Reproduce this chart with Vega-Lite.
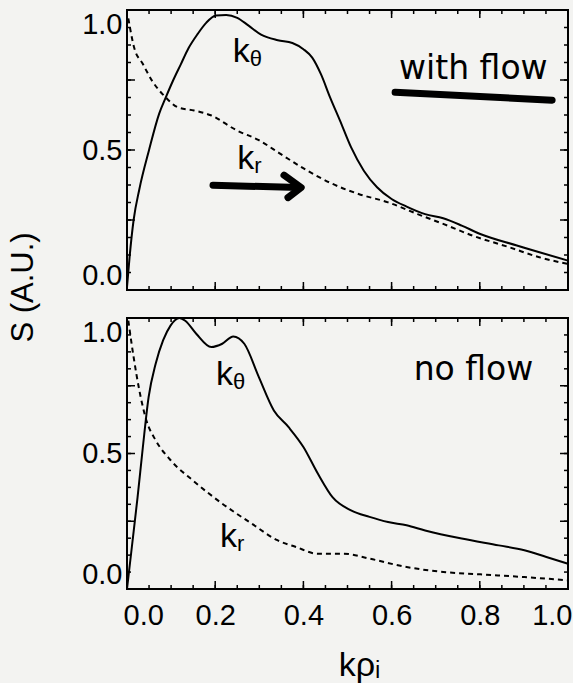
{
  "$schema": "https://vega.github.io/schema/vega-lite/v6.json",
  "background": "#f3f3f1",
  "padding": {"left": 6, "top": 8, "right": 0, "bottom": 0},
  "datasets": {
    "curves": [
      {"panel":"top","series":"theta","x":0,"y":0.01},{"panel":"top","series":"theta","x":0.006,"y":0.12},{"panel":"top","series":"theta","x":0.015,"y":0.25},{"panel":"top","series":"theta","x":0.028,"y":0.36},{"panel":"top","series":"theta","x":0.05,"y":0.5},{"panel":"top","series":"theta","x":0.073,"y":0.63},{"panel":"top","series":"theta","x":0.088,"y":0.688},{"panel":"top","series":"theta","x":0.105,"y":0.75},{"panel":"top","series":"theta","x":0.122,"y":0.806},{"panel":"top","series":"theta","x":0.14,"y":0.865},{"panel":"top","series":"theta","x":0.16,"y":0.914},{"panel":"top","series":"theta","x":0.18,"y":0.955},{"panel":"top","series":"theta","x":0.202,"y":0.98},{"panel":"top","series":"theta","x":0.225,"y":0.982},{"panel":"top","series":"theta","x":0.25,"y":0.972},{"panel":"top","series":"theta","x":0.275,"y":0.945},{"panel":"top","series":"theta","x":0.304,"y":0.912},{"panel":"top","series":"theta","x":0.342,"y":0.892},{"panel":"top","series":"theta","x":0.375,"y":0.882},{"panel":"top","series":"theta","x":0.4,"y":0.86},{"panel":"top","series":"theta","x":0.42,"y":0.83},{"panel":"top","series":"theta","x":0.44,"y":0.77},{"panel":"top","series":"theta","x":0.46,"y":0.69},{"panel":"top","series":"theta","x":0.483,"y":0.605},{"panel":"top","series":"theta","x":0.508,"y":0.51},{"panel":"top","series":"theta","x":0.537,"y":0.426},{"panel":"top","series":"theta","x":0.567,"y":0.367},{"panel":"top","series":"theta","x":0.6,"y":0.325},{"panel":"top","series":"theta","x":0.634,"y":0.298},{"panel":"top","series":"theta","x":0.676,"y":0.271},{"panel":"top","series":"theta","x":0.717,"y":0.256},{"panel":"top","series":"theta","x":0.759,"y":0.23},{"panel":"top","series":"theta","x":0.801,"y":0.2},{"panel":"top","series":"theta","x":0.884,"y":0.159},{"panel":"top","series":"theta","x":1.0,"y":0.105},
      {"panel":"top","series":"r","x":0.003,"y":0.97},{"panel":"top","series":"r","x":0.016,"y":0.867},{"panel":"top","series":"r","x":0.036,"y":0.807},{"panel":"top","series":"r","x":0.059,"y":0.742},{"panel":"top","series":"r","x":0.084,"y":0.694},{"panel":"top","series":"r","x":0.116,"y":0.652},{"panel":"top","series":"r","x":0.152,"y":0.641},{"panel":"top","series":"r","x":0.19,"y":0.624},{"panel":"top","series":"r","x":0.249,"y":0.57},{"panel":"top","series":"r","x":0.299,"y":0.535},{"panel":"top","series":"r","x":0.349,"y":0.485},{"panel":"top","series":"r","x":0.408,"y":0.427},{"panel":"top","series":"r","x":0.466,"y":0.379},{"panel":"top","series":"r","x":0.525,"y":0.343},{"panel":"top","series":"r","x":0.592,"y":0.313},{"panel":"top","series":"r","x":0.659,"y":0.271},{"panel":"top","series":"r","x":0.717,"y":0.236},{"panel":"top","series":"r","x":0.784,"y":0.194},{"panel":"top","series":"r","x":0.868,"y":0.152},{"panel":"top","series":"r","x":0.935,"y":0.117},{"panel":"top","series":"r","x":1.0,"y":0.093},
      {"panel":"bottom","series":"theta","x":0,"y":0.0},{"panel":"bottom","series":"theta","x":0.011,"y":0.155},{"panel":"bottom","series":"theta","x":0.024,"y":0.339},{"panel":"bottom","series":"theta","x":0.036,"y":0.524},{"panel":"bottom","series":"theta","x":0.049,"y":0.708},{"panel":"bottom","series":"theta","x":0.065,"y":0.831},{"panel":"bottom","series":"theta","x":0.082,"y":0.918},{"panel":"bottom","series":"theta","x":0.099,"y":0.973},{"panel":"bottom","series":"theta","x":0.119,"y":1.0},{"panel":"bottom","series":"theta","x":0.132,"y":0.99},{"panel":"bottom","series":"theta","x":0.157,"y":0.942},{"panel":"bottom","series":"theta","x":0.191,"y":0.893},{"panel":"bottom","series":"theta","x":0.216,"y":0.905},{"panel":"bottom","series":"theta","x":0.241,"y":0.932},{"panel":"bottom","series":"theta","x":0.266,"y":0.905},{"panel":"bottom","series":"theta","x":0.299,"y":0.782},{"panel":"bottom","series":"theta","x":0.333,"y":0.659},{"panel":"bottom","series":"theta","x":0.366,"y":0.598},{"panel":"bottom","series":"theta","x":0.4,"y":0.524},{"panel":"bottom","series":"theta","x":0.433,"y":0.425},{"panel":"bottom","series":"theta","x":0.466,"y":0.339},{"panel":"bottom","series":"theta","x":0.508,"y":0.29},{"panel":"bottom","series":"theta","x":0.55,"y":0.266},{"panel":"bottom","series":"theta","x":0.592,"y":0.247},{"panel":"bottom","series":"theta","x":0.634,"y":0.235},{"panel":"bottom","series":"theta","x":0.676,"y":0.216},{"panel":"bottom","series":"theta","x":0.759,"y":0.186},{"panel":"bottom","series":"theta","x":0.843,"y":0.161},{"panel":"bottom","series":"theta","x":0.901,"y":0.143},{"panel":"bottom","series":"theta","x":0.951,"y":0.118},{"panel":"bottom","series":"theta","x":1.0,"y":0.093},
      {"panel":"bottom","series":"r","x":0.003,"y":0.99},{"panel":"bottom","series":"r","x":0.015,"y":0.856},{"panel":"bottom","series":"r","x":0.028,"y":0.733},{"panel":"bottom","series":"r","x":0.044,"y":0.622},{"panel":"bottom","series":"r","x":0.065,"y":0.549},{"panel":"bottom","series":"r","x":0.099,"y":0.475},{"panel":"bottom","series":"r","x":0.149,"y":0.401},{"panel":"bottom","series":"r","x":0.216,"y":0.315},{"panel":"bottom","series":"r","x":0.283,"y":0.241},{"panel":"bottom","series":"r","x":0.341,"y":0.18},{"panel":"bottom","series":"r","x":0.383,"y":0.155},{"panel":"bottom","series":"r","x":0.433,"y":0.13},{"panel":"bottom","series":"r","x":0.492,"y":0.13},{"panel":"bottom","series":"r","x":0.55,"y":0.112},{"panel":"bottom","series":"r","x":0.634,"y":0.081},{"panel":"bottom","series":"r","x":0.717,"y":0.063},{"panel":"bottom","series":"r","x":0.801,"y":0.054},{"panel":"bottom","series":"r","x":0.901,"y":0.044},{"panel":"bottom","series":"r","x":1.0,"y":0.032}
    ],
    "xticks": [
      {"v":0.05,"major":false},{"v":0.1,"major":false},{"v":0.15,"major":false},{"v":0.2,"major":true},{"v":0.25,"major":false},{"v":0.3,"major":false},{"v":0.35,"major":false},{"v":0.4,"major":true},{"v":0.45,"major":false},{"v":0.5,"major":false},{"v":0.55,"major":false},{"v":0.6,"major":true},{"v":0.65,"major":false},{"v":0.7,"major":false},{"v":0.75,"major":false},{"v":0.8,"major":true},{"v":0.85,"major":false},{"v":0.9,"major":false},{"v":0.95,"major":false}
    ],
    "yticks": [
      {"v":0.0625,"major":false},{"v":0.125,"major":false},{"v":0.1875,"major":false},{"v":0.25,"major":true},{"v":0.3125,"major":false},{"v":0.375,"major":false},{"v":0.4375,"major":false},{"v":0.5,"major":true},{"v":0.5625,"major":false},{"v":0.625,"major":false},{"v":0.6875,"major":false},{"v":0.75,"major":true},{"v":0.8125,"major":false},{"v":0.875,"major":false},{"v":0.9375,"major":false}
    ],
    "labels": [
      {"panel":"top","text":"k","sub":"θ","x":0.24,"y":0.813},
      {"panel":"top","text":"k","sub":"r","x":0.25,"y":0.431},
      {"panel":"bottom","text":"k","sub":"θ","x":0.202,"y":0.753},
      {"panel":"bottom","text":"k","sub":"r","x":0.211,"y":0.155}
    ],
    "notes": [
      {"panel":"top","text":"with flow","x":0.617,"y":0.752},
      {"panel":"bottom","text":"no flow","x":0.65,"y":0.771}
    ],
    "strokes": [
      {"panel":"top","id":"underline","ord":0,"x":0.608,"y":0.706},
      {"panel":"top","id":"underline","ord":1,"x":0.964,"y":0.678},
      {"panel":"top","id":"shaft","ord":0,"x":0.195,"y":0.374},
      {"panel":"top","id":"shaft","ord":1,"x":0.39,"y":0.366},
      {"panel":"top","id":"head","ord":0,"x":0.356,"y":0.41},
      {"panel":"top","id":"head","ord":1,"x":0.395,"y":0.366},
      {"panel":"top","id":"head","ord":2,"x":0.365,"y":0.33}
    ]
  },
  "vconcat": [
    {
      "width": 441,
      "height": 280,
      "layer": [
        {
          "data": {"name": "curves"},
          "transform": [{"filter": "datum.panel == 'top' && datum.series == 'theta'"}],
          "mark": {"type": "line", "color": "black", "strokeWidth": 2, "interpolate": "monotone"},
          "encoding": {
            "x": {"field": "x", "type": "quantitative", "scale": {"domain": [0, 1], "nice": false, "zero": false}, "axis": null},
            "y": {"field": "y", "type": "quantitative", "scale": {"domain": [0, 1], "nice": false, "zero": false},
              "axis": {"orient": "left", "values": [0,0.5,1], "ticks": false, "labelExpr": "format(datum.value, '.1f')", "labelFlush": true, "labelOverlap": false, "labelPadding": 5,
                "title": "S (A.U.)", "titleX": -104, "titleY": 277, "titleAngle": -90, "titleAlign": "center", "titleBaseline": "middle", "titleFontSize": 31}}
          }
        },
        {
          "data": {"name": "curves"},
          "transform": [{"filter": "datum.panel == 'top' && datum.series == 'r'"}],
          "mark": {"type": "line", "color": "black", "strokeWidth": 2, "strokeDash": [5, 4], "interpolate": "monotone"},
          "encoding": {
            "x": {"field": "x", "type": "quantitative", "axis": null},
            "y": {"field": "y", "type": "quantitative", "axis": null}
          }
        },
        {
          "data": {"name": "xticks"},
          "mark": {"type": "rule", "color": "black", "strokeWidth": 1.5},
          "encoding": {
            "x": {"field": "v", "type": "quantitative", "axis": null},
            "y": {"datum": 0, "type": "quantitative", "axis": null},
            "y2": {"datum": 0.0143}
          }
        },
        {
          "data": {"name": "xticks"},
          "mark": {"type": "rule", "color": "black", "strokeWidth": 1.5},
          "encoding": {
            "x": {"field": "v", "type": "quantitative", "axis": null},
            "y": {"datum": 1, "type": "quantitative", "axis": null},
            "y2": {"datum": 0.9857}
          }
        },
        {
          "data": {"name": "xticks"},
          "transform": [{"filter": "datum.major"}],
          "mark": {"type": "rule", "color": "black", "strokeWidth": 1.5},
          "encoding": {
            "x": {"field": "v", "type": "quantitative", "axis": null},
            "y": {"datum": 0, "type": "quantitative", "axis": null},
            "y2": {"datum": 0.0286}
          }
        },
        {
          "data": {"name": "xticks"},
          "transform": [{"filter": "datum.major"}],
          "mark": {"type": "rule", "color": "black", "strokeWidth": 1.5},
          "encoding": {
            "x": {"field": "v", "type": "quantitative", "axis": null},
            "y": {"datum": 1, "type": "quantitative", "axis": null},
            "y2": {"datum": 0.9714}
          }
        },
        {
          "data": {"name": "yticks"},
          "mark": {"type": "rule", "color": "black", "strokeWidth": 1.5},
          "encoding": {
            "y": {"field": "v", "type": "quantitative", "axis": null},
            "x": {"datum": 0, "type": "quantitative", "axis": null},
            "x2": {"datum": 0.0091}
          }
        },
        {
          "data": {"name": "yticks"},
          "mark": {"type": "rule", "color": "black", "strokeWidth": 1.5},
          "encoding": {
            "y": {"field": "v", "type": "quantitative", "axis": null},
            "x": {"datum": 1, "type": "quantitative", "axis": null},
            "x2": {"datum": 0.9909}
          }
        },
        {
          "data": {"name": "yticks"},
          "transform": [{"filter": "datum.major"}],
          "mark": {"type": "rule", "color": "black", "strokeWidth": 1.5},
          "encoding": {
            "y": {"field": "v", "type": "quantitative", "axis": null},
            "x": {"datum": 0, "type": "quantitative", "axis": null},
            "x2": {"datum": 0.0181}
          }
        },
        {
          "data": {"name": "yticks"},
          "transform": [{"filter": "datum.major"}],
          "mark": {"type": "rule", "color": "black", "strokeWidth": 1.5},
          "encoding": {
            "y": {"field": "v", "type": "quantitative", "axis": null},
            "x": {"datum": 1, "type": "quantitative", "axis": null},
            "x2": {"datum": 0.9819}
          }
        },
        {
          "data": {"name": "labels"},
          "transform": [{"filter": "datum.panel == 'top'"}],
          "mark": {"type": "text", "align": "left", "baseline": "alphabetic", "font": "Liberation Sans", "fontSize": 34, "color": "black"},
          "encoding": {
            "text": {"field": "text"},
            "x": {"field": "x", "type": "quantitative", "axis": null},
            "y": {"field": "y", "type": "quantitative", "axis": null}
          }
        },
        {
          "data": {"name": "labels"},
          "transform": [{"filter": "datum.panel == 'top'"}],
          "mark": {"type": "text", "align": "left", "baseline": "alphabetic", "font": "Liberation Sans", "fontSize": 22, "dx": 17, "dy": 4, "color": "black"},
          "encoding": {
            "text": {"field": "sub"},
            "x": {"field": "x", "type": "quantitative", "axis": null},
            "y": {"field": "y", "type": "quantitative", "axis": null}
          }
        },
        {
          "data": {"name": "notes"},
          "transform": [{"filter": "datum.panel == 'top'"}],
          "mark": {"type": "text", "align": "left", "baseline": "alphabetic", "font": "DejaVu Sans", "fontSize": 33, "color": "black"},
          "encoding": {
            "text": {"field": "text"},
            "x": {"field": "x", "type": "quantitative", "axis": null},
            "y": {"field": "y", "type": "quantitative", "axis": null}
          }
        },
        {
          "data": {"name": "strokes"},
          "transform": [{"filter": "datum.panel == 'top'"}],
          "mark": {"type": "line", "color": "black", "strokeWidth": 7, "strokeCap": "round", "strokeJoin": "round"},
          "encoding": {
            "detail": {"field": "id"},
            "order": {"field": "ord"},
            "x": {"field": "x", "type": "quantitative", "axis": null},
            "y": {"field": "y", "type": "quantitative", "axis": null}
          }
        }
      ],
      "resolve": {"axis": {"x": "independent", "y": "independent"}}
    },
    {
      "width": 441,
      "height": 271,
      "layer": [
        {
          "data": {"name": "curves"},
          "transform": [{"filter": "datum.panel == 'bottom' && datum.series == 'theta'"}],
          "mark": {"type": "line", "color": "black", "strokeWidth": 2, "interpolate": "monotone"},
          "encoding": {
            "x": {"field": "x", "type": "quantitative", "scale": {"domain": [0, 1], "nice": false, "zero": false},
              "axis": {"orient": "bottom", "values": [0,0.2,0.4,0.6,0.8,1], "ticks": false, "format": ".1f", "labelFlush": true, "labelFlushOffset": 4, "labelOverlap": false, "labelPadding": 12,
                "title": "kρᵢ", "titleX": 232, "titleY": 86, "titleAlign": "center", "titleBaseline": "alphabetic", "titleFontSize": 34}},
            "y": {"field": "y", "type": "quantitative", "scale": {"domain": [0, 1], "nice": false, "zero": false},
              "axis": {"orient": "left", "values": [0,0.5,1], "ticks": false, "labelExpr": "format(datum.value, '.1f')", "labelFlush": true, "labelOverlap": false, "labelPadding": 5, "title": null}}
          }
        },
        {
          "data": {"name": "curves"},
          "transform": [{"filter": "datum.panel == 'bottom' && datum.series == 'r'"}],
          "mark": {"type": "line", "color": "black", "strokeWidth": 2, "strokeDash": [5, 4], "interpolate": "monotone"},
          "encoding": {
            "x": {"field": "x", "type": "quantitative", "axis": null},
            "y": {"field": "y", "type": "quantitative", "axis": null}
          }
        },
        {
          "data": {"name": "xticks"},
          "mark": {"type": "rule", "color": "black", "strokeWidth": 1.5},
          "encoding": {
            "x": {"field": "v", "type": "quantitative", "axis": null},
            "y": {"datum": 0, "type": "quantitative", "axis": null},
            "y2": {"datum": 0.0148}
          }
        },
        {
          "data": {"name": "xticks"},
          "mark": {"type": "rule", "color": "black", "strokeWidth": 1.5},
          "encoding": {
            "x": {"field": "v", "type": "quantitative", "axis": null},
            "y": {"datum": 1, "type": "quantitative", "axis": null},
            "y2": {"datum": 0.9852}
          }
        },
        {
          "data": {"name": "xticks"},
          "transform": [{"filter": "datum.major"}],
          "mark": {"type": "rule", "color": "black", "strokeWidth": 1.5},
          "encoding": {
            "x": {"field": "v", "type": "quantitative", "axis": null},
            "y": {"datum": 0, "type": "quantitative", "axis": null},
            "y2": {"datum": 0.0295}
          }
        },
        {
          "data": {"name": "xticks"},
          "transform": [{"filter": "datum.major"}],
          "mark": {"type": "rule", "color": "black", "strokeWidth": 1.5},
          "encoding": {
            "x": {"field": "v", "type": "quantitative", "axis": null},
            "y": {"datum": 1, "type": "quantitative", "axis": null},
            "y2": {"datum": 0.9705}
          }
        },
        {
          "data": {"name": "yticks"},
          "mark": {"type": "rule", "color": "black", "strokeWidth": 1.5},
          "encoding": {
            "y": {"field": "v", "type": "quantitative", "axis": null},
            "x": {"datum": 0, "type": "quantitative", "axis": null},
            "x2": {"datum": 0.0091}
          }
        },
        {
          "data": {"name": "yticks"},
          "mark": {"type": "rule", "color": "black", "strokeWidth": 1.5},
          "encoding": {
            "y": {"field": "v", "type": "quantitative", "axis": null},
            "x": {"datum": 1, "type": "quantitative", "axis": null},
            "x2": {"datum": 0.9909}
          }
        },
        {
          "data": {"name": "yticks"},
          "transform": [{"filter": "datum.major"}],
          "mark": {"type": "rule", "color": "black", "strokeWidth": 1.5},
          "encoding": {
            "y": {"field": "v", "type": "quantitative", "axis": null},
            "x": {"datum": 0, "type": "quantitative", "axis": null},
            "x2": {"datum": 0.0181}
          }
        },
        {
          "data": {"name": "yticks"},
          "transform": [{"filter": "datum.major"}],
          "mark": {"type": "rule", "color": "black", "strokeWidth": 1.5},
          "encoding": {
            "y": {"field": "v", "type": "quantitative", "axis": null},
            "x": {"datum": 1, "type": "quantitative", "axis": null},
            "x2": {"datum": 0.9819}
          }
        },
        {
          "data": {"name": "labels"},
          "transform": [{"filter": "datum.panel == 'bottom'"}],
          "mark": {"type": "text", "align": "left", "baseline": "alphabetic", "font": "Liberation Sans", "fontSize": 34, "color": "black"},
          "encoding": {
            "text": {"field": "text"},
            "x": {"field": "x", "type": "quantitative", "axis": null},
            "y": {"field": "y", "type": "quantitative", "axis": null}
          }
        },
        {
          "data": {"name": "labels"},
          "transform": [{"filter": "datum.panel == 'bottom'"}],
          "mark": {"type": "text", "align": "left", "baseline": "alphabetic", "font": "Liberation Sans", "fontSize": 22, "dx": 17, "dy": 4, "color": "black"},
          "encoding": {
            "text": {"field": "sub"},
            "x": {"field": "x", "type": "quantitative", "axis": null},
            "y": {"field": "y", "type": "quantitative", "axis": null}
          }
        },
        {
          "data": {"name": "notes"},
          "transform": [{"filter": "datum.panel == 'bottom'"}],
          "mark": {"type": "text", "align": "left", "baseline": "alphabetic", "font": "DejaVu Sans", "fontSize": 33, "color": "black"},
          "encoding": {
            "text": {"field": "text"},
            "x": {"field": "x", "type": "quantitative", "axis": null},
            "y": {"field": "y", "type": "quantitative", "axis": null}
          }
        }
      ],
      "resolve": {"axis": {"x": "independent", "y": "independent"}}
    }
  ],
  "spacing": 28,
  "bounds": "flush",
  "config": {
    "view": {"stroke": "black", "strokeWidth": 2},
    "axis": {"domain": false, "grid": false, "labelColor": "black", "labelFont": "Liberation Sans", "labelFontSize": 29, "titleFont": "Liberation Sans", "titleColor": "black", "titleFontWeight": "normal"}
  }
}
